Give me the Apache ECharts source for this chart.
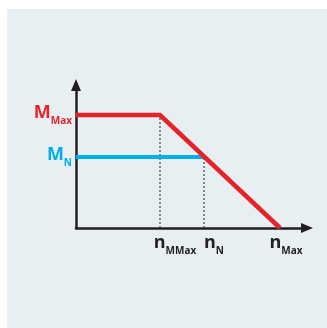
<!DOCTYPE html>
<html>
<head>
<meta charset="utf-8">
<script src="https://cdn.jsdelivr.net/npm/echarts@6/dist/echarts.min.js"></script>
<style>
  html, body { margin: 0; padding: 0; background: #fff; }
  #chart { width: 327px; height: 328px; }
</style>
</head>
<body>
<div id="chart"></div>
<script>
// speed values (arbitrary units) and torque values
const speedTicks = [84, 128, 204]
const speedNames = ['MMax', 'N', 'Max']
const torqueTicks = [71, 113]
const torqueNames = ['N', 'Max']
const torqueColors = ['#00aeef', '#e52329']

const maxCurve = [[0, 113], [84, 113], [204, 0]]
const ratedLine = [[0, 71], [128, 71]]
const guideMMax = [[84, 0], [84, 113]]
const guideN = [[128, 0], [128, 71]]

const dark = '#231f20'
const font = 'Open Sans'
const chart = echarts.init(document.getElementById('chart'), null, { renderer: 'canvas' })

function big (color, padLeft) {
  return { fontSize: 18, fontWeight: 'bold', fontFamily: font, color: color, lineHeight: 20, verticalAlign: 'top', padding: [0, 0, 0, padLeft] }
}
function sub (color) {
  return { fontSize: 10, fontWeight: 'bold', fontFamily: font, color: color, lineHeight: 22, verticalAlign: 'bottom' }
}
function speedLabel (v) {
  const i = speedTicks.indexOf(v)
  return '{a' + i + '|n}{s|' + speedNames[i] + '}'
}

// nN sits close to nMMax, so it gets its own (line-less) axis to avoid label hiding
const outerTicks = [speedTicks[0], speedTicks[2]]
const innerTicks = [speedTicks[1]]

const xBase = {
  type: 'value',
  min: 0,
  max: 231,
  position: 'bottom',
  splitLine: { show: false },
  axisTick: { show: false }
}

const option = {
  animation: false,
  graphic: [
    {
      type: 'rect',
      z: -10,
      shape: { x: 7, y: 9, width: 320, height: 319 },
      style: { fill: '#e8eff3' }
    }
  ],
  grid: { left: 76, right: 20, top: 85, bottom: 100 },
  xAxis: [
    Object.assign({}, xBase, {
      axisLine: {
        lineStyle: { color: dark, width: 2.5 },
        symbol: ['none', 'triangle'],
        symbolSize: [10, 12]
      },
      axisLabel: {
        customValues: outerTicks,
        hideOverlap: false,
        showMinLabel: true,
        showMaxLabel: true,
        margin: 6,
        align: 'center',
        formatter: speedLabel,
        rich: {
          a0: big(dark, 30),
          a2: big(dark, 12),
          s: sub(dark)
        }
      }
    }),
    Object.assign({}, xBase, {
      axisLine: { show: false },
      axisLabel: {
        customValues: innerTicks,
        hideOverlap: false,
        showMinLabel: true,
        showMaxLabel: true,
        margin: 6,
        align: 'left',
        formatter: speedLabel,
        rich: {
          a1: big(dark, 0),
          s: sub(dark)
        }
      }
    })
  ],
  yAxis: {
    type: 'value',
    min: 0,
    max: 143,
    splitLine: { show: false },
    axisTick: { show: false },
    axisLine: {
      show: true,
      lineStyle: { color: dark, width: 2.5 },
      symbol: ['none', 'triangle'],
      symbolSize: [10, 12]
    },
    axisLabel: {
      customValues: torqueTicks,
      hideOverlap: false,
      showMinLabel: true,
      showMaxLabel: true,
      margin: 4,
      formatter: function (v) {
        const i = torqueTicks.indexOf(v)
        return '{m' + i + '|M}{s' + i + '|' + torqueNames[i] + '}'
      },
      rich: {
        m0: big(torqueColors[0], 0),
        s0: sub(torqueColors[0]),
        m1: big(torqueColors[1], 0),
        s1: sub(torqueColors[1])
      }
    }
  },
  series: [
    {
      type: 'line',
      data: guideMMax,
      symbol: 'none',
      lineStyle: { color: dark, width: 1, type: [2, 2] },
      z: 1
    },
    {
      type: 'line',
      data: guideN,
      symbol: 'none',
      lineStyle: { color: dark, width: 1, type: [2, 2] },
      z: 1
    },
    {
      type: 'line',
      data: ratedLine,
      symbol: 'none',
      lineStyle: { color: torqueColors[0], width: 4 },
      z: 2
    },
    {
      type: 'line',
      data: maxCurve,
      symbol: 'none',
      lineStyle: { color: torqueColors[1], width: 4.5, join: 'miter' },
      z: 3
    }
  ]
}
chart.setOption(option)
</script>
</body>
</html>
